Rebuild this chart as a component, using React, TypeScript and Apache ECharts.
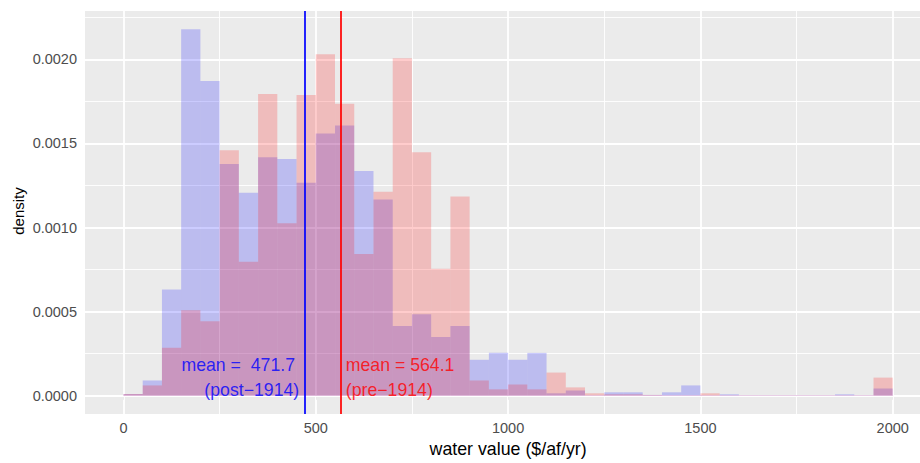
import React, { useEffect, useRef } from "react";
import * as echarts from "echarts";

// ---- data ----
const binWidth = 50;
const binStarts = [
  0, 50, 100, 150, 200, 250, 300, 350, 400, 450,
  500, 550, 600, 650, 700, 750, 800, 850, 900, 950,
  1000, 1050, 1100, 1150, 1200, 1250, 1300, 1350, 1400, 1450,
  1500, 1550, 1600, 1650, 1700, 1750, 1800, 1850, 1900, 1950,
];
// post-1914 (blue)
const postDensity = [
  0.00001, 0.000091, 0.000631, 0.002178, 0.001871, 0.001377, 0.001207, 0.001418, 0.001407, 0.001266,
  0.001559, 0.001606, 0.001336, 0.001166, 0.000414, 0.000485, 0.00035, 0.000414, 0.000214, 0.000255,
  0.000214, 0.000255, 0.0000147, 0.0000313, 0.000003, 0.0000206, 0.0000206, 0.000005, 0.0000206, 0.0000617,
  0.000003, 0.0000088, 0.000003, 0.000003, 0.000003, 0.000003, 0.000003, 0.0000088, 0.000003, 0.0000431,
];
// pre-1914 (red)
const preDensity = [
  0.00001, 0.0000616, 0.000285, 0.000508, 0.000443, 0.001459, 0.000796, 0.001794, 0.001025, 0.001788,
  0.00203, 0.001736, 0.000843, 0.001213, 0.002006, 0.001448, 0.000755, 0.001184, 0.000091, 0.0000382,
  0.0000675, 0.0000382, 0.000138, 0.0000499, 0.0000147, 0.0000088, 0.0000088, 0.000005, 0.000003, 0.000003,
  0.0000147, 0.000003, 0.000003, 0.000003, 0.000003, 0.000003, 0.000003, 0.000003, 0.000003, 0.000108,
];
const postMean = 471.7;
const preMean = 564.1;
const xTicks = [0, 500, 1000, 1500, 2000];
const xMinor = [250, 750, 1250, 1750];
const yTicks = [0, 0.0005, 0.001, 0.0015, 0.002];
const yMinor = [0.00025, 0.00075, 0.00125, 0.00175, 0.00225];
const postLabel = [`mean =  ${postMean.toFixed(1)}`, "(post\u22121914)"];
const preLabel = [`mean = ${preMean.toFixed(1)}`, "(pre\u22121914)"];
// annotation anchors in data units
const postLabelX = [446, 457];
const preLabelX = [578, 578];
const labelY = [0.00018, 0.000032];

const FONT = "'Liberation Sans', Arial, Helvetica, sans-serif";

export default function App() {
  const ref = useRef<HTMLDivElement>(null);

  useEffect(() => {
    document.body.style.margin = "0";
    const chart = echarts.init(ref.current!, null, { renderer: "svg" });

    const xMinData = binStarts[0];
    const xMaxData = binStarts[binStarts.length - 1] + binWidth;
    const xPad = (xMaxData - xMinData) * 0.05;
    const yMaxData = Math.max(...postDensity, ...preDensity);
    const yPad = yMaxData * 0.05;

    const histItem = (color: string) => (params: any, api: any) => {
      const x0 = api.value(0);
      const h = api.value(1);
      const p0 = api.coord([x0, h]);
      const p1 = api.coord([x0 + binWidth, 0]);
      return {
        type: "rect",
        shape: { x: p0[0], y: p0[1], width: p1[0] - p0[0], height: p1[1] - p0[1] },
        style: { fill: color },
      };
    };

    const gridLines = [
      ...xTicks.map((v) => ({ xAxis: v, lineStyle: { width: 1.8 } })),
      ...xMinor.map((v) => ({ xAxis: v, lineStyle: { width: 0.9 } })),
      ...yTicks.map((v) => ({ yAxis: v, lineStyle: { width: 1.8 } })),
      ...yMinor.map((v) => ({ yAxis: v, lineStyle: { width: 0.9 } })),
    ];

    const labelStyle = { fontSize: 17.7, fontFamily: FONT };

    chart.setOption({
      animation: false,
      grid: {
        left: 85,
        right: 0.8,
        top: 11,
        bottom: 44,
        show: true,
        backgroundColor: "#EBEBEB",
        borderWidth: 0,
      },
      xAxis: {
        type: "value",
        min: xMinData - xPad,
        max: xMaxData + xPad,
        axisLine: { show: false },
        axisTick: { show: true, length: 4, customValues: xTicks, lineStyle: { color: "#333333", width: 1 } },
        axisLabel: {
          customValues: xTicks,
          color: "#4D4D4D",
          fontSize: 14.5,
          fontFamily: FONT,
          margin: 6,
          formatter: (v: number) => String(v),
        },
        splitLine: { show: false },
        name: "water value ($/af/yr)",
        nameLocation: "middle",
        nameGap: 25,
        nameTextStyle: { color: "#000000", fontSize: 17.8, fontFamily: FONT },
      },
      yAxis: {
        type: "value",
        min: -yPad,
        max: yMaxData + yPad,
        axisLine: { show: false },
        axisTick: { show: true, length: 4, customValues: yTicks, lineStyle: { color: "#333333", width: 1 } },
        axisLabel: {
          customValues: yTicks,
          color: "#4D4D4D",
          fontSize: 14.5,
          fontFamily: FONT,
          margin: 8,
          formatter: (v: number) => v.toFixed(4),
        },
        splitLine: { show: false },
      },
      graphic: [
        {
          type: "text",
          x: 18,
          y: 211,
          rotation: Math.PI / 2,
          style: {
            text: "density",
            fontSize: 15,
            fontFamily: FONT,
            fill: "#000000",
            align: "center",
            verticalAlign: "middle",
          },
        },
      ],
      series: [
        {
          type: "custom",
          name: "post-1914",
          renderItem: histItem("rgba(0,0,255,0.2)"),
          data: binStarts.map((b, i) => [b, postDensity[i]]),
          encode: { x: 0, y: 1 },
          z: 2,
          silent: true,
          markLine: {
            silent: true,
            z: 1,
            precision: 10,
            symbol: ["none", "none"],
            label: { show: false },
            lineStyle: { color: "#FFFFFF", type: "solid" },
            data: gridLines,
          },
        },
        {
          type: "custom",
          name: "pre-1914",
          renderItem: histItem("rgba(255,0,0,0.2)"),
          data: binStarts.map((b, i) => [b, preDensity[i]]),
          encode: { x: 0, y: 1 },
          z: 3,
          silent: true,
          markLine: {
            silent: true,
            z: 5,
            precision: 10,
            symbol: ["none", "none"],
            label: { show: false },
            data: [
              { xAxis: postMean, lineStyle: { color: "#0000FF", width: 1.7, type: "solid" } },
              { xAxis: preMean, lineStyle: { color: "#FF0000", width: 1.7, type: "solid" } },
            ],
          },
        },
        {
          type: "scatter",
          symbolSize: 0,
          silent: true,
          z: 6,
          data: [
            { value: [postLabelX[0], labelY[0]], label: { show: true, position: "left", distance: 0, color: "#0000FF", formatter: postLabel[0], ...labelStyle } },
            { value: [postLabelX[1], labelY[1]], label: { show: true, position: "left", distance: 0, color: "#0000FF", formatter: postLabel[1], ...labelStyle } },
            { value: [preLabelX[0], labelY[0]], label: { show: true, position: "right", distance: 0, color: "#FF0000", formatter: preLabel[0], ...labelStyle } },
            { value: [preLabelX[1], labelY[1]], label: { show: true, position: "right", distance: 0, color: "#FF0000", formatter: preLabel[1], ...labelStyle } },
          ],
        },
      ],
    });

    return () => chart.dispose();
  }, []);

  return (
    <div style={{ width: 920, height: 463, overflow: "hidden", position: "relative" }}>
      <div ref={ref} style={{ width: 932, height: 463 }} />
    </div>
  );
}
